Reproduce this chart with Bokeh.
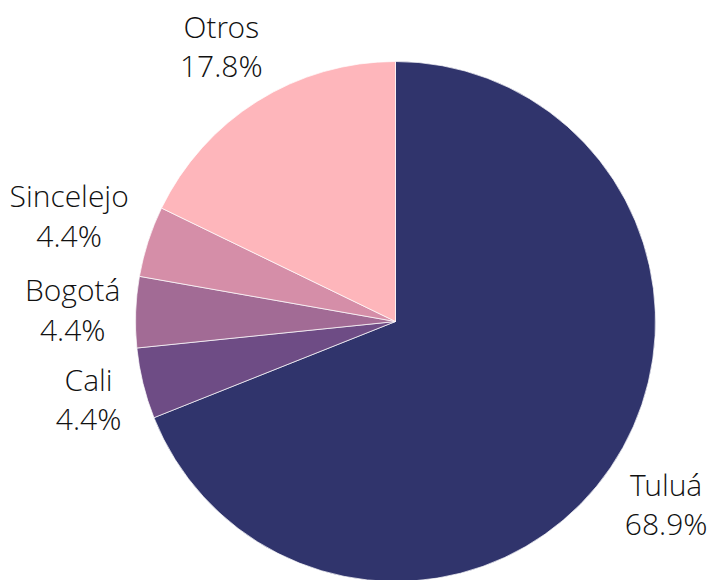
import numpy as np
from bokeh.plotting import figure
from bokeh.models import Range1d, ColumnDataSource
from bokeh.core.properties import value
from bokeh.embed import file_html
from bokeh.resources import INLINE

# data
cities = ["Tuluá", "Cali", "Bogotá", "Sincelejo", "Otros"]
shares = [68.9, 4.4, 4.4, 4.4, 17.8]
colors = ["#30346c", "#6e4c85", "#a26b95", "#d58ea8", "#feb6bb"]

# layout (data units == pixels; y measured upward)
W, H = 709, 580
cx, cy, R = 395, H - 321, 260
label_r = 287
half_w = [40, 29, 36, 56, 41]
half_h = [38, 38, 38, 58, 38]

vals = np.array(shares, dtype=float)
frac = vals / vals.sum()
cum = np.concatenate([[0], np.cumsum(frac)])
start = np.pi / 2 - 2 * np.pi * cum[:-1]
end = np.pi / 2 - 2 * np.pi * cum[1:]
mid = (start + end) / 2
dx, dy = np.cos(mid), np.sin(mid)
lx = cx + label_r * dx + dx * np.array(half_w)
ly = cy + label_r * dy + dy * np.array(half_h)
labels = [f"{c}\n{v:.1f}%" for c, v in zip(cities, shares)]

src = ColumnDataSource(dict(start=start, end=end, color=colors, lx=lx, ly=ly, label=labels))

p = figure(width=W, height=H, x_range=Range1d(0, W), y_range=Range1d(0, H),
           output_backend="svg", toolbar_location=None, min_border=0)
p.axis.visible = False
p.grid.visible = False
p.outline_line_color = None

p.wedge(x=cx, y=cy, radius=R, start_angle="start", end_angle="end", direction="clock",
        fill_color="color", line_color="white", line_width=0.7, source=src)
p.text(x="lx", y="ly", text="label", source=src, text_align="center", text_baseline="middle",
       text_font=value("Open Sans Light"), text_font_size="30px",
       text_line_height=0.97, text_color="#111111")

open("out.html", "w").write(file_html(p, INLINE))
